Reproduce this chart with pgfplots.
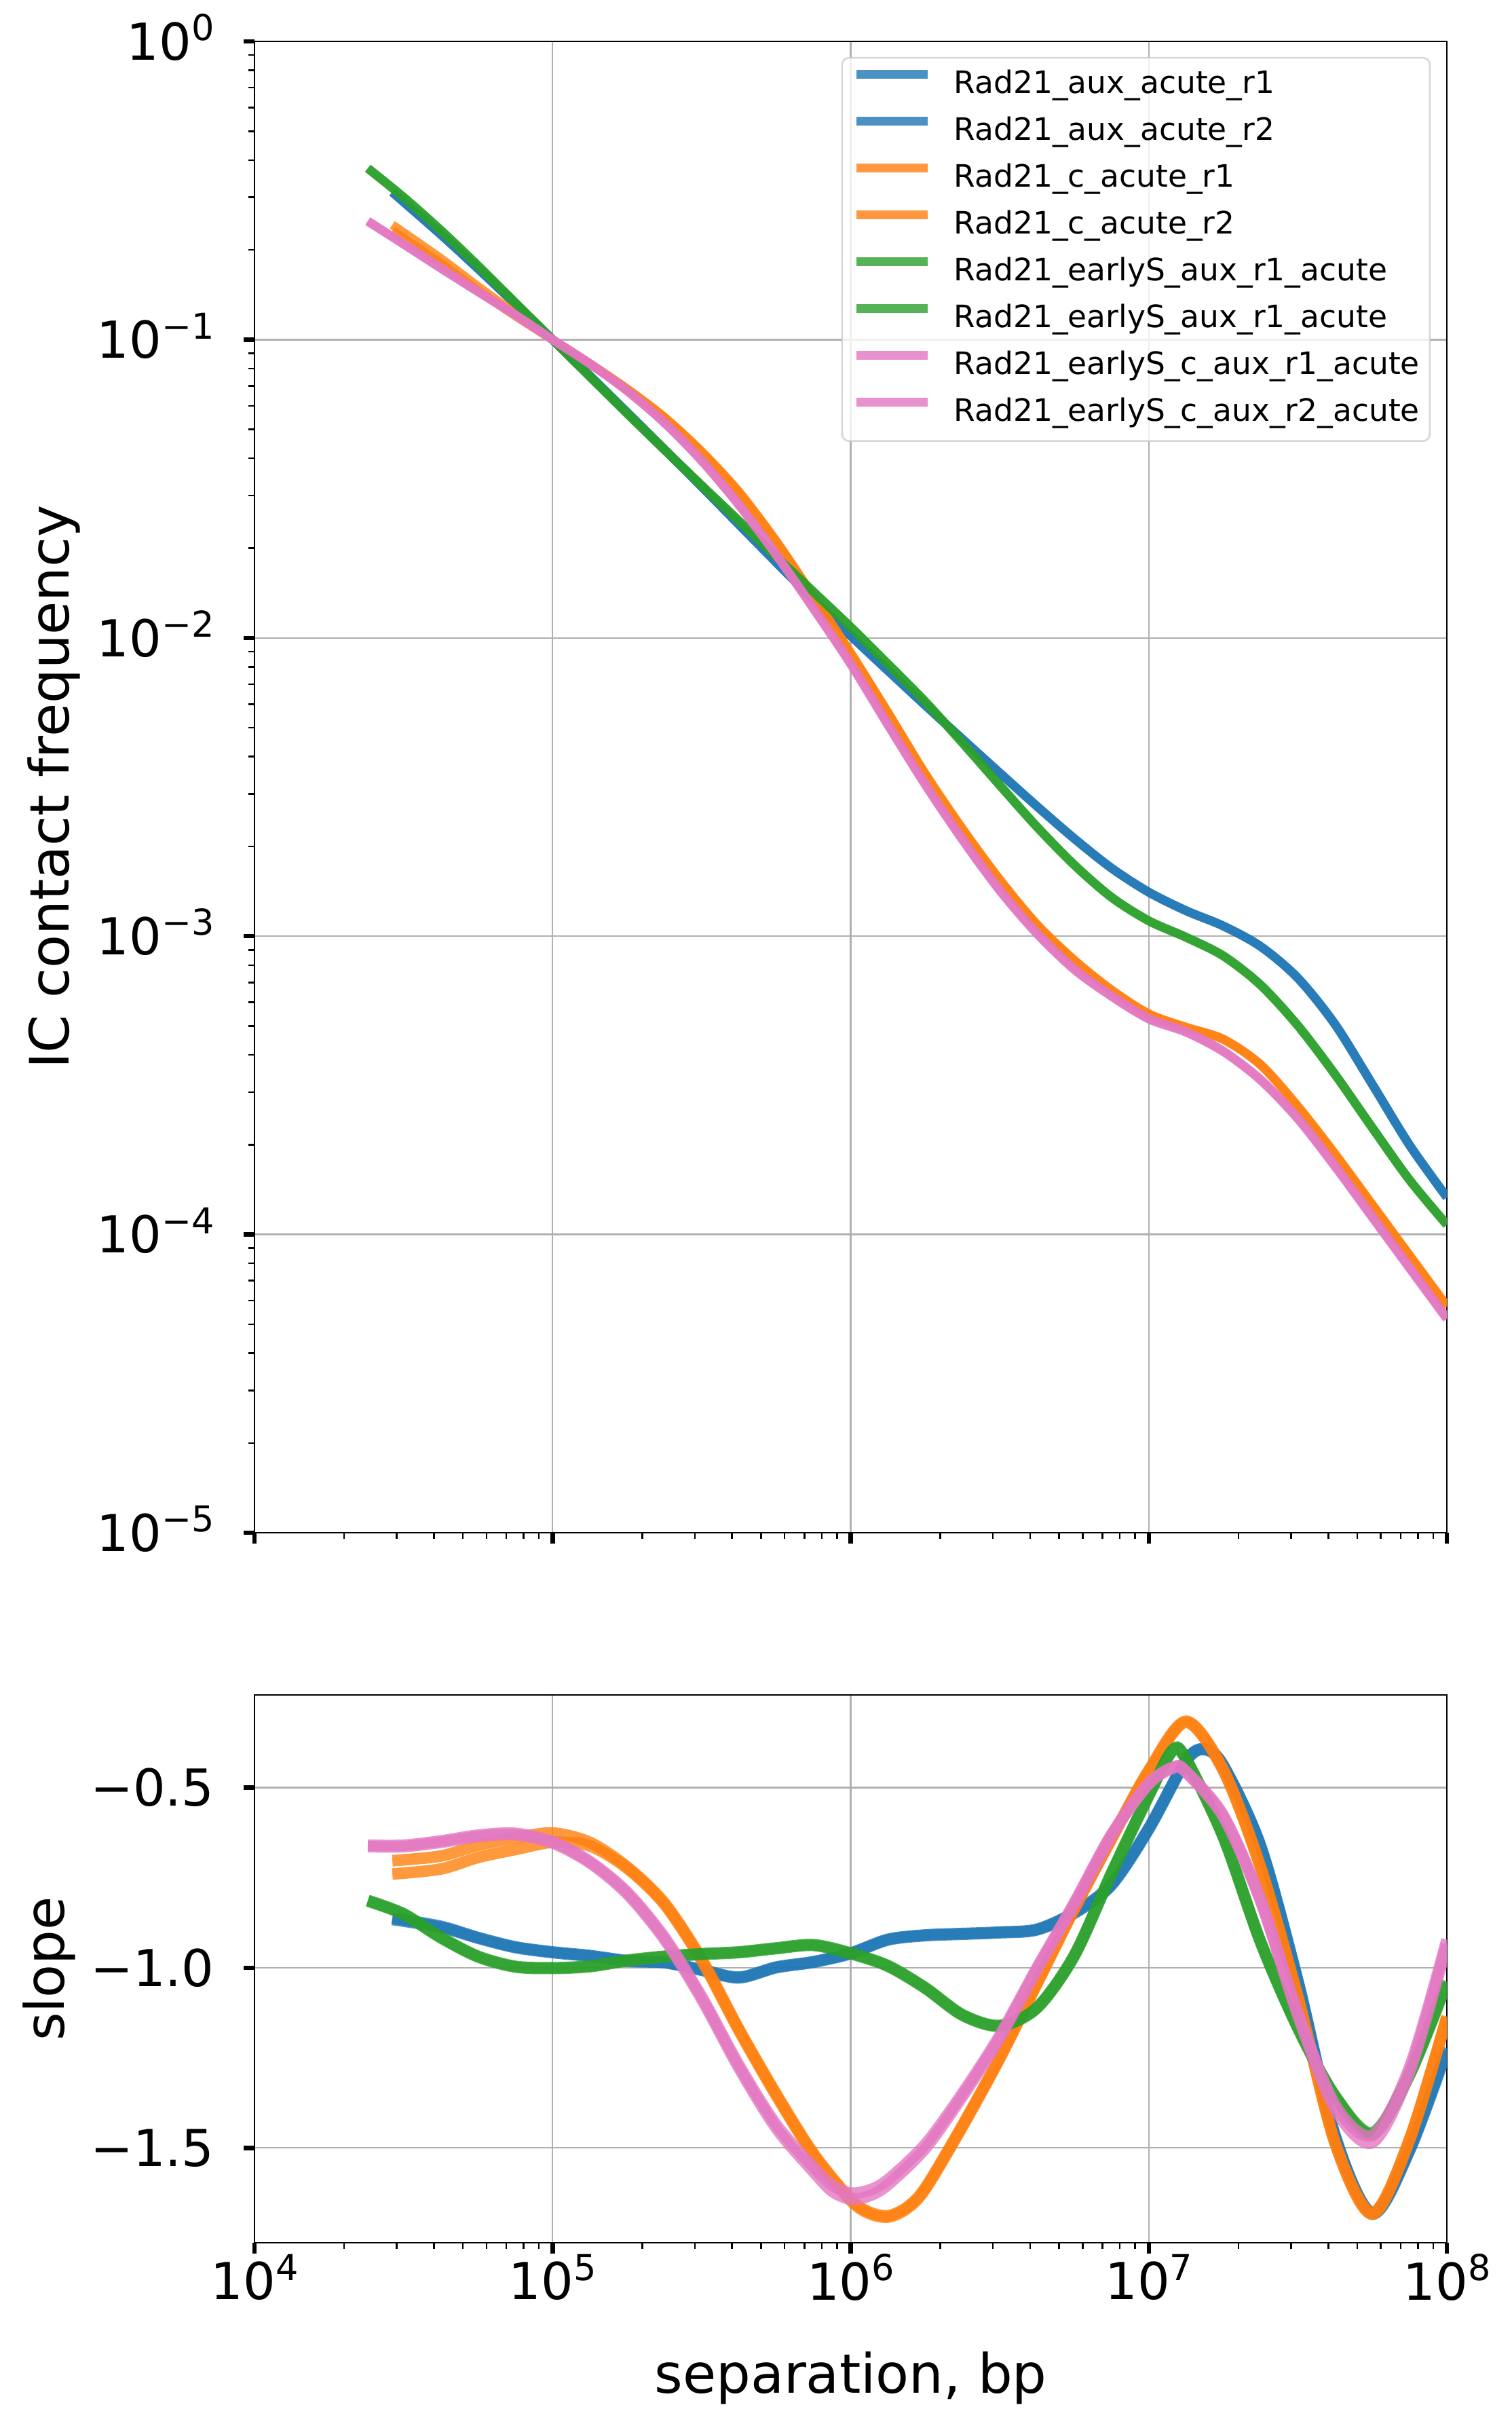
\documentclass[border=0pt]{standalone}
\usepackage{fontspec}
\setmainfont{DejaVu Sans}
\usepackage{pgfplots}
\pgfplotsset{compat=1.18}
\definecolor{cblue}{HTML}{1F77B4}
\definecolor{corange}{HTML}{FF7F0E}
\definecolor{cgreen}{HTML}{2CA02C}
\definecolor{cpink}{HTML}{E377C2}
\definecolor{gridgray}{HTML}{B0B0B0}
\definecolor{leggray}{HTML}{CCCCCC}
\newcommand{\tp}[1]{10\raisebox{5.7pt}{\fontsize{10.5}{12}\selectfont #1}}
\tikzset{
  lnb/.style={cblue, draw opacity=0.8, line width=#1},
  lno/.style={corange, draw opacity=0.8, line width=#1},
  lng/.style={cgreen, draw opacity=0.8, line width=#1},
  lnp/.style={cpink, draw opacity=0.8, line width=#1},
}
\pgfplotsset{
  myax/.style={
    scale only axis, width=351.4pt,
    xmin=1e4, xmax=1e8,
    xtick={1e4,1e5,1e6,1e7,1e8},
    minor xtick={2e4,3e4,4e4,5e4,6e4,7e4,8e4,9e4,2e5,3e5,4e5,5e5,6e5,7e5,8e5,9e5,2e6,3e6,4e6,5e6,6e6,7e6,8e6,9e6,2e7,3e7,4e7,5e7,6e7,7e7,8e7,9e7},
    tick align=outside,
    xtick pos=left, ytick pos=left,
    major tick length=3.2pt, minor tick length=1.8pt,
    tick style={black},
    major tick style={line width=1.3pt},
    minor tick style={line width=0.5pt},
    grid=major,
    major grid style={color=gridgray, line width=0.45pt},
    axis line style={line width=0.5pt},
    tick label style={font=\fontsize{15}{18}\selectfont},
    label style={font=\fontsize{16}{19}\selectfont},
    yticklabel style={anchor=base east, yshift=-5.45pt, xshift=-8.5pt, inner sep=0pt},
    xticklabel style={anchor=north, inner sep=0pt},
  },
}
\begin{document}
\begin{tikzpicture}
\path[use as bounding box] (0,0) rectangle (445.4pt,714.8pt);
\begin{axis}[xmode=log, ymode=log, myax,
  at={(75pt,263.2pt)}, anchor=south west, height=439.4pt,
  ymin=1e-5, ymax=1,
  ytick={1e-5,1e-4,1e-3,1e-2,1e-1,1},
  yticklabels={\tp{−5},\tp{−4},\tp{−3},\tp{−2},\tp{−1},\tp{0}},
  minor ytick={2e-5,3e-5,4e-5,5e-5,6e-5,7e-5,8e-5,9e-5,2e-4,3e-4,4e-4,5e-4,6e-4,7e-4,8e-4,9e-4,2e-3,3e-3,4e-3,5e-3,6e-3,7e-3,8e-3,9e-3,2e-2,3e-2,4e-2,5e-2,6e-2,7e-2,8e-2,9e-2,0.2,0.3,0.4,0.5,0.6,0.7,0.8,0.9},
  xticklabels={,,,,},
  ylabel={IC contact frequency},
  ylabel style={at={(axis description cs:-0.168,0.5)}, anchor=center},
  legend cell align=left,
  legend image code/.code={\draw[#1] (0pt,3.3pt) -- (21pt,3.3pt);},
  legend style={at={(axis description cs:0.98634,0.98953)}, anchor=north east,
    draw=leggray, line width=0.5pt, rounded corners=2pt,
    fill=white, fill opacity=0.8, draw opacity=0.8, text opacity=1,
    font=\fontsize{9.1}{11}\selectfont,
    inner xsep=3pt, inner ysep=3.5pt, row sep=4.5pt, column sep=6.4pt,
    nodes={inner sep=0pt, text height=7pt, text depth=2.3pt}},
]
\addplot[lnb=2.6pt, smooth] coordinates {(29000,0.3126) (42170,0.2254) (56234,0.1730) (74989,0.1318) (1e5,0.1) (133352,0.07569) (177828,0.05702) (237137,0.04285) (316228,0.03214) (421697,0.02399) (562341,0.01791) (749894,0.01343) (1e6,0.01016) (1333521,0.007762) (1778279,0.005943) (2371374,0.004571) (3162278,0.003524) (4216965,0.002723) (5623413,0.002123) (7498942,0.001690) (1e7,0.001403) (13335214,0.001216) (17782794,0.001081) (23713737,9.23e-4) (31622777,7.23e-4) (42169650,5.05e-4) (56234133,3.18e-4) (74989421,1.99e-4) (1e8,1.33e-4)};
\addlegendentry{Rad21\_aux\_acute\_r1}
\addplot[lnb=2.6pt, smooth] coordinates {(29000,0.3120) (42170,0.2250) (56234,0.1728) (74989,0.1317) (1e5,0.1) (133352,0.07572) (177828,0.05706) (237137,0.04290) (316228,0.03218) (421697,0.02402) (562341,0.01794) (749894,0.01345) (1e6,0.01018) (1333521,0.007775) (1778279,0.005955) (2371374,0.004580) (3162278,0.003530) (4216965,0.002728) (5623413,0.002127) (7498942,0.001693) (1e7,0.001406) (13335214,0.001219) (17782794,0.001083) (23713737,9.25e-4) (31622777,7.25e-4) (42169650,5.07e-4) (56234133,3.19e-4) (74989421,1.995e-4) (1e8,1.335e-4)};
\addlegendentry{Rad21\_aux\_acute\_r2}
\addplot[lno=2.6pt, smooth] coordinates {(29000,0.2317) (42170,0.1799) (56234,0.1462) (74989,0.1202) (1e5,0.1) (133352,0.08318) (177828,0.06839) (237137,0.05495) (316228,0.04217) (421697,0.03090) (562341,0.02113) (749894,0.01380) (1e6,0.008913) (1333521,0.005623) (1778279,0.003508) (2371374,0.002291) (3162278,0.001549) (4216965,0.001096) (5623413,8.318e-4) (7498942,6.607e-4) (1e7,5.495e-4) (13335214,4.955e-4) (17782794,4.519e-4) (23713737,3.715e-4) (31622777,2.692e-4) (42169650,1.862e-4) (56234133,1.259e-4) (74989421,8.511e-5) (1e8,5.754e-5)};
\addlegendentry{Rad21\_c\_acute\_r1}
\addplot[lno=2.6pt, smooth] coordinates {(29000,0.2427) (42170,0.1871) (56234,0.1507) (74989,0.1225) (1e5,0.1) (133352,0.08300) (177828,0.06820) (237137,0.05478) (316228,0.04200) (421697,0.03078) (562341,0.02105) (749894,0.01375) (1e6,0.008880) (1333521,0.005600) (1778279,0.003495) (2371374,0.002282) (3162278,0.001543) (4216965,0.001092) (5623413,8.29e-4) (7498942,6.585e-4) (1e7,5.475e-4) (13335214,4.94e-4) (17782794,4.505e-4) (23713737,3.70e-4) (31622777,2.68e-4) (42169650,1.855e-4) (56234133,1.254e-4) (74989421,8.48e-5) (1e8,5.73e-5)};
\addlegendentry{Rad21\_c\_acute\_r2}
\addplot[lng=2.6pt, smooth] coordinates {(24000,0.3758) (31623,0.3006) (42170,0.2328) (56234,0.1770) (74989,0.1330) (1e5,0.1) (133352,0.07516) (177828,0.05656) (237137,0.04276) (316228,0.03243) (421697,0.02466) (562341,0.01871) (749894,0.01426) (1e6,0.01086) (1333521,0.008166) (1778279,0.006109) (2371374,0.004446) (3162278,0.003206) (4216965,0.002323) (5623413,0.001732) (7498942,0.001349) (1e7,0.001125) (13335214,9.908e-4) (17782794,8.580e-4) (23713737,6.855e-4) (31622777,5.012e-4) (42169650,3.436e-4) (56234133,2.275e-4) (74989421,1.521e-4) (1e8,1.077e-4)};
\addlegendentry{Rad21\_earlyS\_aux\_r1\_acute}
\addplot[lng=2.6pt, smooth] coordinates {(24000,0.3750) (31623,0.3000) (42170,0.2325) (56234,0.1768) (74989,0.1329) (1e5,0.1) (133352,0.07520) (177828,0.05660) (237137,0.04280) (316228,0.03247) (421697,0.02470) (562341,0.01874) (749894,0.01429) (1e6,0.01088) (1333521,0.008180) (1778279,0.006120) (2371374,0.004455) (3162278,0.003213) (4216965,0.002328) (5623413,0.001736) (7498942,0.001352) (1e7,0.001127) (13335214,9.93e-4) (17782794,8.60e-4) (23713737,6.87e-4) (31622777,5.02e-4) (42169650,3.44e-4) (56234133,2.28e-4) (74989421,1.524e-4) (1e8,1.079e-4)};
\addlegendentry{Rad21\_earlyS\_aux\_r1\_acute}
\addplot[lnp=2.6pt, smooth] coordinates {(24000,0.2500) (31623,0.2094) (42170,0.1738) (56234,0.1449) (74989,0.1211) (1e5,0.1) (133352,0.08308) (177828,0.06745) (237137,0.05272) (316228,0.03936) (421697,0.02799) (562341,0.01905) (749894,0.01259) (1e6,0.008204) (1333521,0.005129) (1778279,0.003236) (2371374,0.002113) (3162278,0.001429) (4216965,0.001023) (5623413,7.762e-4) (7498942,6.310e-4) (1e7,5.297e-4) (13335214,4.786e-4) (17782794,4.121e-4) (23713737,3.311e-4) (31622777,2.455e-4) (42169650,1.698e-4) (56234133,1.148e-4) (74989421,7.762e-5) (1e8,5.248e-5)};
\addlegendentry{Rad21\_earlyS\_c\_aux\_r1\_acute}
\addplot[lnp=2.6pt, smooth] coordinates {(24000,0.2492) (31623,0.2090) (42170,0.1736) (56234,0.1448) (74989,0.1210) (1e5,0.1) (133352,0.08300) (177828,0.06735) (237137,0.05262) (316228,0.03925) (421697,0.02790) (562341,0.01898) (749894,0.01254) (1e6,0.008170) (1333521,0.005105) (1778279,0.003222) (2371374,0.002104) (3162278,0.001423) (4216965,0.001019) (5623413,7.73e-4) (7498942,6.285e-4) (1e7,5.275e-4) (13335214,4.765e-4) (17782794,4.10e-4) (23713737,3.29e-4) (31622777,2.44e-4) (42169650,1.688e-4) (56234133,1.140e-4) (74989421,7.70e-5) (1e8,5.21e-5)};
\addlegendentry{Rad21\_earlyS\_c\_aux\_r2\_acute}
\end{axis}

\begin{axis}[xmode=log, myax,
  at={(75pt,54pt)}, anchor=south west, height=161.4pt,
  ymin=-1.763, ymax=-0.243,
  ytick={-1.5,-1,-0.5},
  yticklabels={−1.5,−1.0,−0.5},
  xticklabels={\tp{4},\tp{5},\tp{6},\tp{7},\tp{8}},
  ylabel={slope},
  ylabel style={at={(axis description cs:-0.172,0.5)}, anchor=center},
  xlabel={separation, bp},
  xlabel style={at={(axis description cs:0.5,-0.2739)}, anchor=base},
]
\addplot[lnb=3.4pt, smooth] coordinates {(29000,-0.866) (42170,-0.888) (56234,-0.918) (74989,-0.944) (1e5,-0.958) (133352,-0.968) (177828,-0.982) (237137,-0.986) (316228,-1.007) (421697,-1.028) (562341,-1.0) (749894,-0.985) (1e6,-0.961) (1333521,-0.923) (1778279,-0.911) (2371374,-0.907) (3162278,-0.903) (4216965,-0.895) (5623413,-0.849) (7498942,-0.771) (1e7,-0.616) (13335214,-0.427) (15399265,-0.395) (17782794,-0.44) (23713737,-0.664) (31622777,-1.039) (42169650,-1.468) (56234133,-1.68) (74989421,-1.503) (1e8,-1.223)};
\addplot[lnb=3.4pt, smooth] coordinates {(29000,-0.862) (42170,-0.885) (56234,-0.916) (74989,-0.942) (1e5,-0.956) (133352,-0.966) (177828,-0.980) (237137,-0.985) (316228,-1.005) (421697,-1.026) (562341,-0.998) (749894,-0.983) (1e6,-0.959) (1333521,-0.921) (1778279,-0.909) (2371374,-0.905) (3162278,-0.901) (4216965,-0.893) (5623413,-0.846) (7498942,-0.768) (1e7,-0.612) (13335214,-0.424) (15399265,-0.393) (17782794,-0.438) (23713737,-0.661) (31622777,-1.035) (42169650,-1.465) (56234133,-1.683) (74989421,-1.508) (1e8,-1.230)};
\addplot[lno=3.4pt, smooth] coordinates {(29000,-0.703) (42170,-0.69) (56234,-0.66) (74989,-0.64) (1e5,-0.626) (133352,-0.652) (177828,-0.72) (237137,-0.82) (316228,-0.976) (421697,-1.17) (562341,-1.35) (749894,-1.515) (1e6,-1.642) (1154782,-1.678) (1333521,-1.688) (1539927,-1.665) (1778279,-1.611) (2371374,-1.437) (3162278,-1.249) (4216965,-1.042) (5623413,-0.835) (7498942,-0.640) (1e7,-0.452) (13335214,-0.316) (17782794,-0.45) (23713737,-0.72) (31622777,-1.08) (42169650,-1.485) (56234133,-1.68) (74989421,-1.475) (1e8,-1.135)};
\addplot[lno=3.4pt, smooth] coordinates {(29000,-0.74) (42170,-0.726) (56234,-0.694) (74989,-0.672) (1e5,-0.652) (133352,-0.662) (177828,-0.724) (237137,-0.824) (316228,-0.980) (421697,-1.174) (562341,-1.354) (749894,-1.519) (1e6,-1.646) (1154782,-1.682) (1333521,-1.692) (1539927,-1.669) (1778279,-1.615) (2371374,-1.441) (3162278,-1.252) (4216965,-1.045) (5623413,-0.838) (7498942,-0.643) (1e7,-0.455) (13335214,-0.319) (17782794,-0.453) (23713737,-0.723) (31622777,-1.083) (42169650,-1.488) (56234133,-1.684) (74989421,-1.478) (1e8,-1.138)};
\addplot[lng=3.4pt, smooth] coordinates {(24000,-0.813) (31623,-0.85) (42170,-0.915) (56234,-0.968) (74989,-0.996) (1e5,-1.0) (133352,-0.995) (177828,-0.979) (237137,-0.968) (316228,-0.961) (421697,-0.956) (562341,-0.945) (749894,-0.936) (1e6,-0.959) (1333521,-0.994) (1778279,-1.055) (2371374,-1.13) (3162278,-1.16) (4216965,-1.11) (5623413,-0.965) (7498942,-0.737) (1e7,-0.52) (12022644,-0.395) (13335214,-0.42) (17782794,-0.635) (23713737,-0.927) (31622777,-1.165) (42169650,-1.355) (56234133,-1.458) (74989421,-1.294) (1e8,-1.038)};
\addplot[lng=3.4pt, smooth] coordinates {(24000,-0.815) (31623,-0.852) (42170,-0.917) (56234,-0.970) (74989,-0.998) (1e5,-1.002) (133352,-0.997) (177828,-0.981) (237137,-0.970) (316228,-0.963) (421697,-0.958) (562341,-0.947) (749894,-0.938) (1e6,-0.961) (1333521,-0.996) (1778279,-1.057) (2371374,-1.132) (3162278,-1.162) (4216965,-1.112) (5623413,-0.968) (7498942,-0.740) (1e7,-0.523) (12022644,-0.398) (13335214,-0.423) (17782794,-0.638) (23713737,-0.930) (31622777,-1.168) (42169650,-1.358) (56234133,-1.462) (74989421,-1.298) (1e8,-1.042)};
\addplot[lnp=3.4pt, smooth] coordinates {(24000,-0.66) (31623,-0.66) (42170,-0.648) (56234,-0.632) (74989,-0.627) (1e5,-0.65) (133352,-0.705) (177828,-0.79) (237137,-0.915) (316228,-1.08) (421697,-1.27) (562341,-1.435) (749894,-1.553) (865964,-1.603) (1e6,-1.625) (1154782,-1.617) (1333521,-1.588) (1778279,-1.49) (2371374,-1.348) (3162278,-1.188) (4216965,-1.0) (5623413,-0.82) (7498942,-0.63) (1e7,-0.488) (12189896,-0.442) (13335214,-0.455) (17782794,-0.577) (23713737,-0.81) (31622777,-1.125) (42169650,-1.38) (56234133,-1.465) (74989421,-1.276) (1e8,-0.922)};
\addplot[lnp=3.4pt, smooth] coordinates {(24000,-0.664) (31623,-0.664) (42170,-0.652) (56234,-0.636) (74989,-0.631) (1e5,-0.654) (133352,-0.709) (177828,-0.795) (237137,-0.921) (316228,-1.087) (421697,-1.278) (562341,-1.445) (749894,-1.566) (865964,-1.620) (1e6,-1.642) (1154782,-1.633) (1333521,-1.602) (1778279,-1.502) (2371374,-1.357) (3162278,-1.195) (4216965,-1.005) (5623413,-0.824) (7498942,-0.633) (1e7,-0.490) (12189896,-0.445) (13335214,-0.458) (17782794,-0.581) (23713737,-0.815) (31622777,-1.132) (42169650,-1.392) (56234133,-1.485) (74989421,-1.290) (1e8,-0.935)};
\end{axis}
\end{tikzpicture}
\end{document}
